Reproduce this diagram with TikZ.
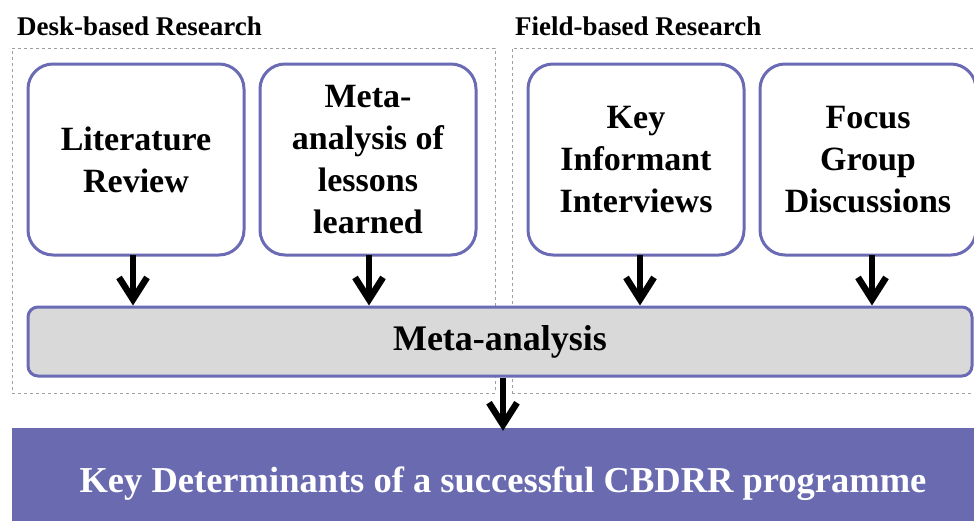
\documentclass[tikz,border=0pt]{standalone}
\usepackage{fontspec}
\setmainfont{Liberation Serif}
\usepackage{xcolor}
\usetikzlibrary{positioning,arrows.meta}
\definecolor{boxblue}{HTML}{6B6BB5}
\definecolor{mergegray}{HTML}{D9D9D9}
\definecolor{resultblue}{HTML}{6A6AB0}
\tikzset{method node/.style={draw=boxblue,fill=white,line width=3pt,rounded corners=25pt,minimum width=216pt,minimum height=191pt,inner sep=0pt,outer sep=0pt,align=center,font=\fontsize{34}{42}\selectfont\bfseries}}
\tikzset{merge node/.style={draw=boxblue,fill=mergegray,line width=3pt,rounded corners=10pt,minimum width=944pt,minimum height=69pt,inner sep=0pt,font=\fontsize{36}{42}\selectfont\bfseries}}
\tikzset{result node/.style={fill=resultblue,text=white,minimum width=982pt,minimum height=112pt,inner sep=0pt,font=\fontsize{36.5}{42}\selectfont\bfseries}}
\tikzset{group frame/.style={draw=gray!75,dashed,line width=0.8pt,inner sep=0pt}}
\tikzset{group label/.style={anchor=base west,inner sep=0pt,font=\fontsize{27}{30}\selectfont\bfseries}}
\tikzset{flow arrow/.style={-{Straight Barb[length=22pt,width=28pt]},line width=6.5pt}}

\begin{document}
\begin{tikzpicture}[x=1pt,y=-1pt]
      \useasboundingbox (0,0) rectangle (974,520);
      % dashed group frames
      \node[group frame,minimum width=483pt,minimum height=345pt] (desk) at (253.5,220.5) {};
      \node[group frame,minimum width=478pt,minimum height=345pt] (field) at (751,220.5) {};
      \node[group label] (desklabel) at (17,35) {Desk-based Research};
      \node[group label] (fieldlabel) at (515,35) {Field-based Research};
      % methods
      \node[method node] (lit) at (136,159.5) {Literature\\Review};
      \node[method node] (lessons) [right=16pt of lit] {Meta-\\analysis of\\lessons\\learned};
      \node[method node] (kii) [right=52pt of lessons] {Key\\Informant\\Interviews};
      \node[method node] (fgd) [right=16pt of kii] {Focus\\Group\\Discussions};
      % merge and result
      \node[merge node] (analysis) at (500,341.5) {Meta-analysis};
      \node[result node] (result) at (503,484) {Key Determinants of a successful CBDRR programme};
      \foreach \m/\dx in {lit/-3,lessons/1,kii/4,fgd/4}
        \draw[flow arrow] ([xshift=\dx pt]\m.south) -- ([xshift=\dx pt]\m.south |- analysis.north);
      \draw[flow arrow] (analysis.south -| result.north) -- ([yshift=-3pt]result.north);
    \end{tikzpicture}
\end{document}
